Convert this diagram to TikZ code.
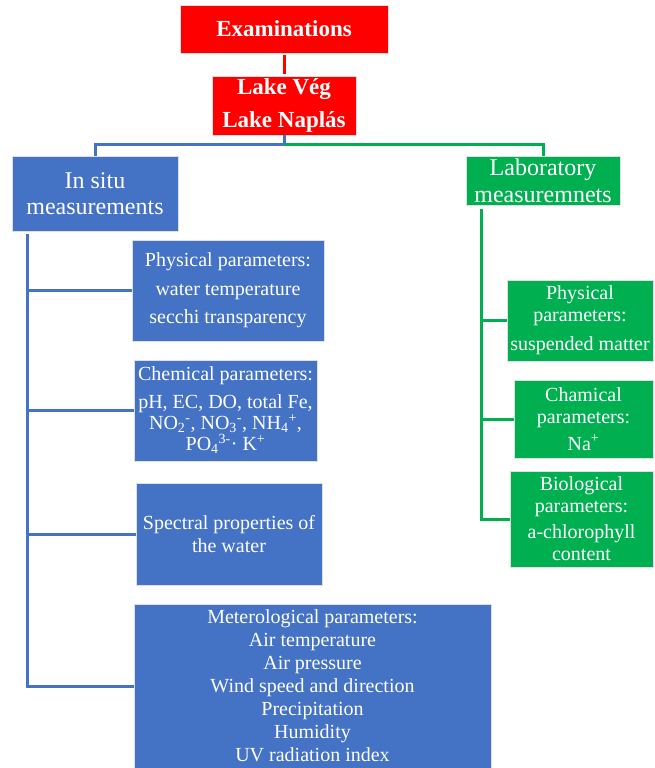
\documentclass[tikz,border=0pt]{standalone}
\usepackage{fontspec}
\setmainfont{Liberation Serif}
\definecolor{boxred}{HTML}{FF0000}
\definecolor{boxblue}{HTML}{4472C4}
\definecolor{boxgreen}{HTML}{00B050}
\begin{document}
\begin{tikzpicture}
[x=1pt,y=-1pt,
  boxdecorate/.style={shape=rectangle,inner sep=0pt,align=center,text=white,draw=white!75!gray,line width=0.6pt},%
  redbox/.style={boxdecorate,fill=boxred,font=\fontsize{23}{33}\selectfont\bfseries},%
  bluebox/.style={boxdecorate,fill=boxblue,font=\fontsize{20}{23}\selectfont},%
  greenbox/.style={boxdecorate,fill=boxgreen,font=\fontsize{20}{22}\selectfont},%
  headbox/.style={font=\fontsize{24}{26}\selectfont},%
  redline/.style={draw=boxred,line width=3pt,shorten <=2pt,shorten >=2pt},%
  blueline/.style={draw=boxblue,line width=3pt},%
  greenline/.style={draw=boxgreen,line width=3pt},%
  elbow/.style={to path={|- (\tikztotarget)}}]
\useasboundingbox (0,0) rectangle (654,768);
% boxes
\node (exam) at (284,29) [redbox,minimum width=208pt,minimum height=48pt] {Examinations};
\node (lake) at (284,105.5) [redbox,minimum width=144pt,minimum height=59pt] {Lake Vég\\Lake Naplás};
\node (insitu) at (95,193.5) [bluebox,headbox,minimum width=166pt,minimum height=75pt] {In situ\\measurements};
\node (lab) at (543,180.5) [greenbox,headbox,minimum width=154pt,minimum height=49pt,font=\fontsize{24}{27}\selectfont] {Laboratory\\measuremnets};
\node (phys) at (228,290.5) [bluebox,minimum width=192pt,minimum height=101pt,font=\fontsize{20}{28.5}\selectfont] {Physical parameters:\\water temperature\\secchi transparency};
\node (chem) at (225.5,410.5) [bluebox,minimum width=183pt,minimum height=101pt,font=\fontsize{20}{21}\selectfont] {Chemical parameters:\\[7pt]pH, EC, DO, total Fe,\\NO\textsubscript{2}\textsuperscript{-}, NO\textsubscript{3}\textsuperscript{-}, NH\textsubscript{4}\textsuperscript{+},\\PO\textsubscript{4}\textsuperscript{3-}· K\textsuperscript{+}};
\node (spec) at (229,534) [bluebox,minimum width=186pt,minimum height=102pt] {Spectral properties of\\the water};
\node (meteo) at (312.5,686) [bluebox,minimum width=357pt,minimum height=164pt] {Meterological parameters:\\Air temperature\\Air pressure\\Wind speed and direction\\Precipitation\\Humidity\\UV radiation index};
\node (gphys) at (580,320.5) [greenbox,minimum width=146pt,minimum height=81pt] {Physical\\parameters:\\[7pt]suspended matter};
\node (gchem) at (583.5,419) [greenbox,minimum width=139pt,minimum height=78pt] {Chamical\\parameters:\\[5pt]Na\textsuperscript{+}};
\node (gbio) at (581.5,519) [greenbox,minimum width=143pt,minimum height=96pt] {Biological\\parameters:\\[4pt]a-chlorophyll\\content};
% joints
\coordinate (hub) at (284,144);
\coordinate (ltrunk) at (27,234);
\coordinate (rtrunk) at (481,209);
% lines
\path (exam) edge[redline] (lake);
\draw[blueline] (lake.south) -- (hub) -| (insitu.north);
\draw[greenline] (hub) -| (lab.north);
\path
(ltrunk) edge[blueline,elbow] (phys.west)
(ltrunk) edge[blueline,elbow] (chem.west)
(ltrunk) edge[blueline,elbow] (spec.west)
(ltrunk) edge[blueline,elbow] (meteo.west)
(rtrunk) edge[greenline,elbow] (gphys.west)
(rtrunk) edge[greenline,elbow] (gchem.west)
(rtrunk) edge[greenline,elbow] (gbio.west);
\end{tikzpicture}
\end{document}
